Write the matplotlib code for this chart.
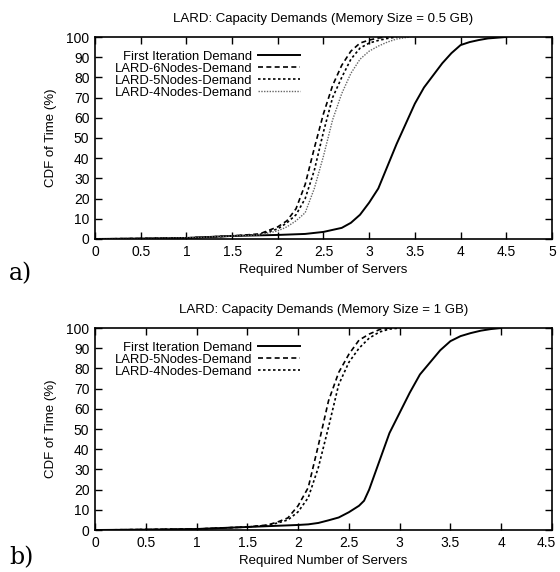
import matplotlib
matplotlib.use("Agg")
import matplotlib.pyplot as plt
import matplotlib.transforms as mtransforms

# ---- data: panel a) memory size = 0.5 GB
a_first_x = [0, 0.5, 1.0, 1.5, 2.0, 2.3, 2.5, 2.7, 2.8, 2.9, 3.0, 3.1, 3.2, 3.3, 3.4, 3.5,
             3.6, 3.7, 3.8, 3.9, 4.0, 4.1, 4.2, 4.3, 4.5]
a_first_y = [0, 0.2, 0.5, 1.5, 2.0, 2.5, 3.5, 5.5, 8, 12, 18, 25, 36, 47, 57, 67,
             75, 81, 87, 92, 96, 97.5, 98.5, 99.3, 100]
a_6n_x = [0, 1, 1.5, 1.8, 2.0, 2.1, 2.2, 2.3, 2.4, 2.5, 2.6, 2.7, 2.8, 2.9, 3.0, 3.1, 3.2]
a_6n_y = [0, 0.5, 1.5, 2.5, 6, 9, 15, 27, 45, 62, 76, 86, 93, 97, 98.5, 99.5, 100]
a_5n_x = [0, 1, 1.5, 1.8, 2.0, 2.1, 2.2, 2.3, 2.4, 2.5, 2.6, 2.7, 2.8, 2.9, 3.0, 3.1, 3.2, 3.3]
a_5n_y = [0, 0.5, 1.5, 2.2, 5, 8, 12, 20, 34, 53, 70, 80, 89, 94.5, 97, 98.3, 99.3, 100]
a_4n_x = [0, 1, 1.5, 1.8, 2.0, 2.1, 2.2, 2.3, 2.4, 2.5, 2.6, 2.7, 2.8, 2.9, 3.0, 3.1,
          3.2, 3.3, 3.4, 3.45]
a_4n_y = [0, 0.5, 1.5, 2, 4, 6, 9, 13, 25, 41, 59, 72, 82, 89, 93, 95.5,
          97.5, 99, 99.7, 100]

# ---- data: panel b) memory size = 1 GB
b_first_x = [0, 0.5, 1.0, 1.5, 2.0, 2.1, 2.2, 2.3, 2.4, 2.5, 2.6, 2.65, 2.7, 2.8, 2.9, 3.0,
             3.1, 3.2, 3.3, 3.4, 3.5, 3.6, 3.7, 3.8, 3.9, 4.0]
b_first_y = [0, 0.2, 0.5, 1.5, 2.5, 2.8, 3.5, 4.8, 6.2, 8.8, 12, 14.5, 20, 34, 48, 58,
             68, 77, 83, 89, 93.5, 96, 97.5, 98.7, 99.5, 100]
b_5n_x = [0, 1, 1.5, 1.7, 1.8, 1.9, 2.0, 2.1, 2.2, 2.3, 2.4, 2.5, 2.6, 2.7, 2.8, 2.9]
b_5n_y = [0, 0.5, 1.5, 2.5, 4, 6, 12, 21, 42, 64, 78, 87, 94, 97, 99.2, 100]
b_4n_x = [0, 1, 1.5, 1.7, 1.8, 1.9, 2.0, 2.1, 2.2, 2.3, 2.4, 2.5, 2.6, 2.7, 2.8, 2.9, 3.0]
b_4n_y = [0, 0.5, 1.5, 2.3, 3.5, 5, 9, 16, 31, 51, 72, 83, 90, 95, 98, 99.5, 100]

y_ticks = [0, 10, 20, 30, 40, 50, 60, 70, 80, 90, 100]
a_x_ticks = [0, 0.5, 1, 1.5, 2, 2.5, 3, 3.5, 4, 4.5, 5]
b_x_ticks = [0, 0.5, 1, 1.5, 2, 2.5, 3, 3.5, 4, 4.5]

plt.rcParams["font.family"] = ["Liberation Sans", "DejaVu Sans"]
plt.rcParams["font.size"] = 9


def style_axes(ax, xmax, xticks, title, last_shift=0):
  ax.set_xlim(0, xmax)
  ax.set_ylim(0, 100)
  ax.set_xticks(xticks)
  ax.set_xticklabels([("%g" % t) for t in xticks])
  ax.set_yticks(y_ticks)
  ax.tick_params(direction="in", top=True, right=True, length=5, width=1,
                 labelsize=10, pad=4)
  for s in ax.spines.values():
    s.set_linewidth(1.2)
  ax.set_title(title, fontsize=9.5, pad=11)
  ax.set_xlabel("Required Number of Servers", fontsize=9.5, labelpad=4)
  ax.set_ylabel("CDF of Time (%)", fontsize=9.5, labelpad=7)
  ax.legend(loc="upper left", frameon=False, markerfirst=False, fontsize=9.4,
            handlelength=3.2, handletextpad=0.45, labelspacing=0.0,
            borderaxespad=0.4, bbox_to_anchor=(0.02, 0.985))
  if last_shift:
    # keep the last x tick label inside the figure
    last = ax.get_xticklabels()[-1]
    shift = mtransforms.ScaledTranslation(-last_shift / 72, 0, ax.figure.dpi_scale_trans)
    last.set_transform(last.get_transform() + shift)


fig = plt.figure(figsize=(5.6, 5.72), dpi=100)

ax1 = fig.add_axes([0.1696, 0.5822, 0.816, 0.3531])
ax1.plot(a_first_x, a_first_y, color="black", lw=1.4, label="First Iteration Demand")
ax1.plot(a_6n_x, a_6n_y, color="black", lw=1.2, dashes=(3, 2), label="LARD-6Nodes-Demand")
ax1.plot(a_5n_x, a_5n_y, color="black", lw=1.2, dashes=(1.5, 1.5), label="LARD-5Nodes-Demand")
ax1.plot(a_4n_x, a_4n_y, color="#666666", lw=1.0, dashes=(1, 1), label="LARD-4Nodes-Demand")
style_axes(ax1, 5, a_x_ticks, "LARD: Capacity Demands (Memory Size = 0.5 GB)")

ax2 = fig.add_axes([0.1696, 0.0734, 0.816, 0.3531])
ax2.plot(b_first_x, b_first_y, color="black", lw=1.4, label="First Iteration Demand")
ax2.plot(b_5n_x, b_5n_y, color="black", lw=1.2, dashes=(3, 2), label="LARD-5Nodes-Demand")
ax2.plot(b_4n_x, b_4n_y, color="black", lw=1.2, dashes=(1.5, 1.5), label="LARD-4Nodes-Demand")
style_axes(ax2, 4.5, b_x_ticks, "LARD: Capacity Demands (Memory Size = 1 GB)", last_shift=4)

fig.text(0.016, 1 - 274 / 572, "a)", fontsize=17, family="DejaVu Serif", va="center")
fig.text(0.016, 1 - 558 / 572, "b)", fontsize=17, family="DejaVu Serif", va="center")

plt.savefig("out.png", dpi=100)
